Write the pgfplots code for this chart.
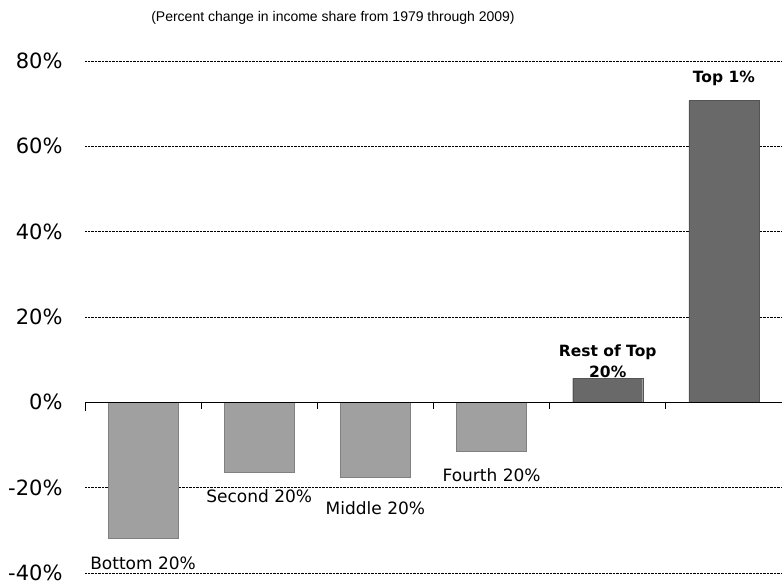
\documentclass[border=0pt]{standalone}
\usepackage{fontspec}
\setmainfont{DejaVu Sans}
\newfontfamily\arialf{Liberation Sans}
\usepackage{pgfplots}
\pgfplotsset{compat=1.18}
\definecolor{barlight}{RGB}{160,160,160}
\definecolor{bardark}{RGB}{105,105,105}
\begin{document}
\begin{tikzpicture}
\useasboundingbox (-85pt,-14pt) rectangle (697pt,573pt);
\begin{axis}[
 at={(0pt,0pt)}, anchor=south west,
 scale only axis, width=697pt, height=512pt,
 xmin=-0.5, xmax=5.5, ymin=-40, ymax=80,
 axis line style={draw=none},
 xtick=\empty,
 ytick={-40,-20,0,20,40,60,80},
 yticklabels={-40\%,-20\%,0\%,20\%,40\%,60\%,80\%},
 yticklabel style={font=\fontsize{21}{25}\selectfont, xshift=-19pt},
 major tick length=0pt,
 ymajorgrids, grid style={black, densely dotted, line width=0.6pt},
 ybar, bar width=70pt,
 clip=false,
]
\addplot[bar shift=0pt, fill=barlight, draw=barlight!80!black] coordinates {(0,-31.8) (1,-16.4) (2,-17.6) (3,-11.5)};
\addplot[bar shift=0pt, fill=bardark, draw=bardark!80!black] coordinates {(4,5.6) (5,70.7)};
\draw[black, line width=1pt] (axis cs:-0.5,0) -- (axis cs:5.5,0);
\draw[black, line width=0.8pt] (axis cs:-0.5,0) -- ++(0pt,-9pt);
\draw[black, line width=0.8pt] (axis cs:0.5,0) -- ++(0pt,-7pt);
\draw[black, line width=0.8pt] (axis cs:1.5,0) -- ++(0pt,-7pt);
\draw[black, line width=0.8pt] (axis cs:2.5,0) -- ++(0pt,-7pt);
\draw[black, line width=0.8pt] (axis cs:3.5,0) -- ++(0pt,-7pt);
\draw[black, line width=0.8pt] (axis cs:4.5,0) -- ++(0pt,-7pt);
\node[font=\fontsize{17}{20}\selectfont] at (axis cs:0,-37.7) {Bottom 20\%};
\node[font=\fontsize{17}{20}\selectfont] at (axis cs:1,-22) {Second 20\%};
\node[font=\fontsize{17}{20}\selectfont] at (axis cs:2,-24.8) {Middle 20\%};
\node[font=\fontsize{17}{20}\selectfont] at (axis cs:3,-17.1) {Fourth 20\%};
\node[font=\bfseries\fontsize{15.5}{21}\selectfont, align=center, anchor=south, inner sep=1pt] at (axis cs:4,5.6) {Rest of Top\\20\%};
\node[font=\bfseries\fontsize{15.5}{21}\selectfont] at (axis cs:5,75.9) {Top 1\%};
\end{axis}
\node[font=\arialf\fontsize{14}{17}\selectfont] at (248pt,555pt) {(Percent change in income share from 1979 through 2009)};
\end{tikzpicture}
\end{document}
